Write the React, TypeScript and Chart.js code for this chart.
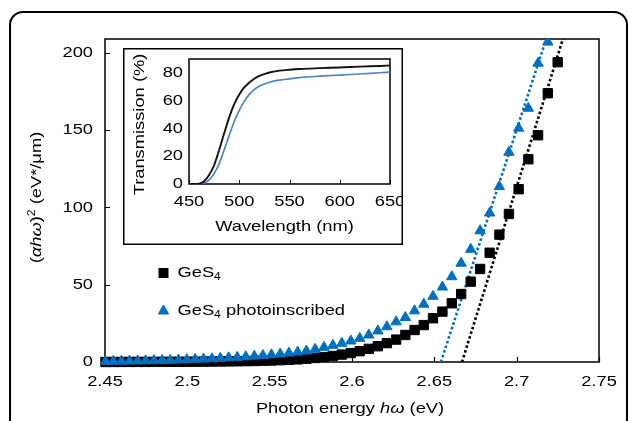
import React, { useEffect, useRef } from 'react';
import { Chart, registerables } from 'chart.js';

Chart.register(...registerables);

// Photon energy (eV) of each measured point
const photonEnergy = [
  2.7249, 2.7189, 2.713, 2.7071, 2.7012, 2.6953, 2.6895, 2.6836, 2.6778, 2.6721,
  2.6663, 2.6606, 2.6549, 2.6492, 2.6436, 2.638, 2.6324, 2.6268, 2.6212, 2.6157,
  2.6102, 2.6047, 2.5993, 2.5938, 2.5884, 2.583, 2.5776, 2.5723, 2.567, 2.5617,
  2.5564, 2.5511, 2.5459, 2.5407, 2.5355, 2.5303, 2.5251, 2.52, 2.5149, 2.5098,
  2.5047, 2.4997, 2.4946, 2.4896, 2.4847, 2.4797, 2.4747, 2.4698, 2.4649, 2.46,
  2.4551, 2.4503,
];

// (alpha h omega)^2 for GeS4
const ges4 = [
  194.0, 173.9, 146.7, 131.2, 111.8, 95.8, 82.4, 70.7, 60.2, 52.0,
  44.0, 38.0, 32.6, 28.3, 23.9, 20.7, 17.5, 14.5, 12.2, 10.2,
  8.5, 7.0, 5.8, 4.8, 3.9, 3.2, 2.6, 2.1, 1.7, 1.4,
  1.15, 0.95, 0.8, 0.65, 0.55, 0.45, 0.4, 0.35, 0.3, 0.25,
  0.2, 0.18, 0.15, 0.12, 0.1, 0.08, 0.06, 0.05, 0.04, 0.03,
  0.02, 0.01,
];

// (alpha h omega)^2 for GeS4 photoinscribed
const ges4Photo: (number | null)[] = [
  null, 207, 193.3, 164.2, 151.3, 135.7, 113.5, 96.4, 84.9, 72.9,
  63.9, 55.2, 48.5, 42.5, 37.4, 33.1, 28.8, 26.0, 22.8, 20.1,
  17.5, 15.3, 13.6, 12.1, 10.8, 9.5, 8.2, 7.1, 6.4, 5.8,
  5.2, 4.7, 4.2, 3.8, 3.4, 3.0, 2.7, 2.4, 2.1, 1.9,
  1.7, 1.5, 1.3, 1.1, 1.0, 0.9, 0.8, 0.7, 0.6, 0.5,
  0.45, 0.4,
];

// Linear (Tauc) fits
const fitGeS4X = [2.6668, 2.7313];
const fitGeS4Y = [0, 220];
const fitPhotoX = [2.654, 2.7213];
const fitPhotoY = [0, 220];

const xTicks = [2.45, 2.5, 2.55, 2.6, 2.65, 2.7, 2.75];
const xTickLabels = ['2.45', '2.5', '2.55', '2.6', '2.65', '2.7', '2.75'];
const yTicks = [0, 50, 100, 150, 200];
const yTickLabels = ['0', '50', '100', '150', '200'];

// Inset: transmission spectra
const wavelength = [450, 455, 460, 465, 470, 475, 480, 485, 490, 495, 500, 505, 510, 515, 520, 530, 540, 550, 560, 580, 600, 620, 640, 650];
const transGeS4 = [0, 0, 0.2, 2, 6.5, 13.5, 24.5, 36.5, 48, 57.5, 64.5, 69.5, 73, 75.8, 77.8, 80.3, 81.6, 82.3, 82.8, 83.4, 83.9, 84.5, 85, 85.3];
const transPhoto = [0, 0, 0, 0.7, 3, 7.5, 14.5, 24.5, 35, 45, 53, 59.5, 64.5, 68, 70.5, 73.3, 74.8, 75.7, 76.6, 77.6, 78.4, 79.2, 80.1, 80.5];
const insetXTicks = [450, 500, 550, 600, 650];
const insetXTickLabels = ['450', '500', '550', '600', '650'];
const insetYTicks = [0, 20, 40, 60, 80];
const insetYTickLabels = ['0', '20', '40', '60', '80'];

const SX = 1.22;
const FONT = '"Liberation Sans", Arial, Helvetica, sans-serif';
const BLUE = '#0070C0';

type Run = { t: string; italic?: boolean; size?: number; dy?: number };

function drawRuns(
  ctx: CanvasRenderingContext2D,
  runs: Run[],
  x: number,
  y: number,
  size: number,
  align: 'left' | 'center' | 'right',
  angle = 0
) {
  ctx.save();
  ctx.translate(x, y);
  if (angle) ctx.rotate(angle);
  const fontOf = (r: Run) => `${r.italic ? 'italic ' : ''}${r.size ?? size}px ${FONT}`;
  const widths = runs.map((r) => {
    ctx.font = fontOf(r);
    return ctx.measureText(r.t).width * SX;
  });
  const total = widths.reduce((a, b) => a + b, 0);
  let cx = align === 'center' ? -total / 2 : align === 'right' ? -total : 0;
  ctx.fillStyle = '#000';
  ctx.textBaseline = 'middle';
  ctx.textAlign = 'left';
  runs.forEach((r, i) => {
    ctx.save();
    ctx.translate(cx, r.dy ?? 0);
    ctx.scale(SX, 1);
    ctx.font = fontOf(r);
    ctx.fillText(r.t, 0, 0);
    ctx.restore();
    cx += widths[i];
  });
  ctx.restore();
}

const mainDecor = {
  id: 'mainDecor',
  beforeDatasetsDraw(chart: any) {
    const ctx: CanvasRenderingContext2D = chart.ctx;
    const a = chart.chartArea;
    const xs = chart.scales.x;
    const ys = chart.scales.y;
    ctx.save();
    ctx.strokeStyle = '#000';
    ctx.lineWidth = 1.5;
    ctx.strokeRect(a.left, a.top, a.right - a.left, a.bottom - a.top);
    ctx.lineWidth = 1.2;
    ctx.beginPath();
    xTicks.forEach((v) => {
      const px = Math.round(xs.getPixelForValue(v)) + 0.5;
      ctx.moveTo(px, a.bottom);
      ctx.lineTo(px, a.bottom - 5);
    });
    yTicks.forEach((v) => {
      const py = Math.round(ys.getPixelForValue(v)) + 0.5;
      ctx.moveTo(a.left, py);
      ctx.lineTo(a.left + 5, py);
    });
    ctx.stroke();
    ctx.restore();
  },
  afterDraw(chart: any) {
    const ctx: CanvasRenderingContext2D = chart.ctx;
    const a = chart.chartArea;
    const xs = chart.scales.x;
    const ys = chart.scales.y;
    xTicks.forEach((v, i) => {
      drawRuns(ctx, [{ t: xTickLabels[i] }], xs.getPixelForValue(v), a.bottom + 20, 15, 'center');
    });
    yTicks.forEach((v, i) => {
      drawRuns(ctx, [{ t: yTickLabels[i] }], a.left - 12, ys.getPixelForValue(v), 15, 'right');
    });
    // axis titles
    drawRuns(
      ctx,
      [{ t: 'Photon energy ' }, { t: 'hω', italic: true }, { t: ' (eV)' }],
      (a.left + a.right) / 2 - 2,
      a.bottom + 47,
      15,
      'center'
    );
    drawRuns(
      ctx,
      [
        { t: '(' },
        { t: 'αhω', italic: true },
        { t: ')' },
        { t: '2', size: 10, dy: -5 },
        { t: ' (eV*/μm)' },
      ],
      37,
      (a.top + a.bottom) / 2 - 3,
      15,
      'center',
      -Math.PI / 2
    );
    // legend
    ctx.save();
    ctx.fillStyle = '#000';
    ctx.fillRect(163.5 - 5, 273 - 5, 10, 10);
    const r = 6;
    const tx = 163.5;
    const ty = 311;
    ctx.beginPath();
    ctx.moveTo(tx, ty - r);
    ctx.lineTo(tx + r * Math.sin((2 * Math.PI) / 3), ty - r * Math.cos((2 * Math.PI) / 3));
    ctx.lineTo(tx + r * Math.sin((4 * Math.PI) / 3), ty - r * Math.cos((4 * Math.PI) / 3));
    ctx.closePath();
    ctx.fillStyle = BLUE;
    ctx.strokeStyle = BLUE;
    ctx.lineWidth = 1;
    ctx.fill();
    ctx.stroke();
    ctx.restore();
    drawRuns(ctx, [{ t: 'GeS' }, { t: '4', size: 10, dy: 4 }], 177.5, 273, 15, 'left');
    drawRuns(ctx, [{ t: 'GeS' }, { t: '4', size: 10, dy: 4 }, { t: ' photoinscribed' }], 177.5, 311, 15, 'left');
  },
};

const insetDecor = {
  id: 'insetDecor',
  beforeDraw(chart: any) {
    const ctx: CanvasRenderingContext2D = chart.ctx;
    const w = chart.width;
    const h = chart.height;
    ctx.save();
    ctx.fillStyle = '#fff';
    ctx.fillRect(0, 0, w, h);
    ctx.strokeStyle = '#000';
    ctx.lineWidth = 1.5;
    ctx.strokeRect(0.75, 0.75, w - 1.5, h - 1.5);
    ctx.restore();
  },
  beforeDatasetsDraw(chart: any) {
    const ctx: CanvasRenderingContext2D = chart.ctx;
    const a = chart.chartArea;
    const xs = chart.scales.x;
    ctx.save();
    ctx.strokeStyle = '#000';
    ctx.lineWidth = 1.5;
    ctx.strokeRect(a.left, a.top, a.right - a.left, a.bottom - a.top);
    ctx.lineWidth = 1;
    ctx.beginPath();
    insetXTicks.forEach((v) => {
      const px = Math.round(xs.getPixelForValue(v)) + 0.5;
      ctx.moveTo(px, a.bottom);
      ctx.lineTo(px, a.bottom - 4);
    });
    ctx.stroke();
    ctx.restore();
  },
  afterDraw(chart: any) {
    const ctx: CanvasRenderingContext2D = chart.ctx;
    const a = chart.chartArea;
    const xs = chart.scales.x;
    const ys = chart.scales.y;
    insetXTicks.forEach((v, i) => {
      drawRuns(ctx, [{ t: insetXTickLabels[i] }], xs.getPixelForValue(v), a.bottom + 17.5, 15, 'center');
    });
    insetYTicks.forEach((v, i) => {
      drawRuns(ctx, [{ t: insetYTickLabels[i] }], a.left - 6, ys.getPixelForValue(v), 15, 'right');
    });
    drawRuns(ctx, [{ t: 'Wavelength (nm)' }], (a.left + a.right) / 2 - 5, a.bottom + 42.5, 15, 'center');
    drawRuns(ctx, [{ t: 'Transmission (%)' }], 17, (a.top + a.bottom) / 2 + 3, 15, 'center', -Math.PI / 2);
  },
};

export default function App() {
  const mainRef = useRef<HTMLCanvasElement>(null);
  const insetRef = useRef<HTMLCanvasElement>(null);

  useEffect(() => {
    const clipPts = { left: 7, top: 0, right: 7, bottom: 7 };
    const main = new Chart(mainRef.current as HTMLCanvasElement, {
      type: 'scatter',
      data: {
        datasets: [
          {
            label: 'GeS4 photoinscribed',
            data: photonEnergy
              .map((x, i) => ({ x, y: ges4Photo[i] }))
              .filter((p) => p.y !== null) as any,
            pointStyle: 'triangle',
            pointRadius: 6,
            backgroundColor: BLUE,
            borderColor: BLUE,
            borderWidth: 1,
            clip: clipPts as any,
          },
          {
            label: 'GeS4',
            data: photonEnergy.map((x, i) => ({ x, y: ges4[i] })),
            pointStyle: 'rect',
            pointRadius: 6.6,
            backgroundColor: '#000',
            borderColor: '#000',
            borderWidth: 1,
            clip: clipPts as any,
          },
          {
            label: 'GeS4 fit',
            data: fitGeS4X.map((x, i) => ({ x, y: fitGeS4Y[i] })),
            showLine: true,
            pointRadius: 0,
            borderColor: '#000',
            borderWidth: 2.6,
            borderDash: [2.6, 2.3],
            clip: 0 as any,
          },
          {
            label: 'GeS4 photoinscribed fit',
            data: fitPhotoX.map((x, i) => ({ x, y: fitPhotoY[i] })),
            showLine: true,
            pointRadius: 0,
            borderColor: BLUE,
            borderWidth: 2.6,
            borderDash: [2.6, 2.3],
            clip: 0 as any,
          },
        ],
      },
      options: {
        responsive: false,
        animation: false,
        devicePixelRatio: 1,
        events: [],
        layout: { padding: { left: 105, top: 39, right: 30, bottom: 59 } },
        plugins: { legend: { display: false }, tooltip: { enabled: false } },
        scales: {
          x: { type: 'linear', min: 2.45, max: 2.75, display: false },
          y: { type: 'linear', min: 0, max: 209, display: false },
        },
      },
      plugins: [mainDecor],
    });

    const inset = new Chart(insetRef.current as HTMLCanvasElement, {
      type: 'scatter',
      data: {
        datasets: [
          {
            label: 'GeS4',
            data: wavelength.map((x, i) => ({ x, y: transGeS4[i] })),
            showLine: true,
            pointRadius: 0,
            borderColor: '#111',
            borderWidth: 1.9,
            cubicInterpolationMode: 'monotone',
            clip: 0 as any,
          },
          {
            label: 'GeS4 photoinscribed',
            data: wavelength.map((x, i) => ({ x, y: transPhoto[i] })),
            showLine: true,
            pointRadius: 0,
            borderColor: '#4d84c6',
            borderWidth: 1.7,
            cubicInterpolationMode: 'monotone',
            clip: 0 as any,
          },
        ],
      },
      options: {
        responsive: false,
        animation: false,
        devicePixelRatio: 1,
        events: [],
        layout: { padding: { left: 66, top: 11, right: 13, bottom: 61 } },
        plugins: { legend: { display: false }, tooltip: { enabled: false } },
        scales: {
          x: { type: 'linear', min: 450, max: 650, display: false },
          y: { type: 'linear', min: 0, max: 90, display: false },
        },
      },
      plugins: [insetDecor],
    });

    return () => {
      main.destroy();
      inset.destroy();
    };
  }, []);

  return (
    <div
      style={{
        position: 'fixed',
        left: 0,
        top: 0,
        width: 629,
        height: 421,
        overflow: 'hidden',
        background: '#fff',
      }}
    >
      <div
        style={{
          position: 'absolute',
          left: 9,
          top: 11,
          width: 615,
          height: 470,
          border: '2px solid #000',
          borderRadius: 14,
        }}
      />
      <canvas
        ref={mainRef}
        width={629}
        height={421}
        style={{ position: 'absolute', left: 0, top: 0, width: 629, height: 421 }}
      />
      <canvas
        ref={insetRef}
        width={280}
        height={197}
        style={{ position: 'absolute', left: 123, top: 48, width: 280, height: 197 }}
      />
    </div>
  );
}
